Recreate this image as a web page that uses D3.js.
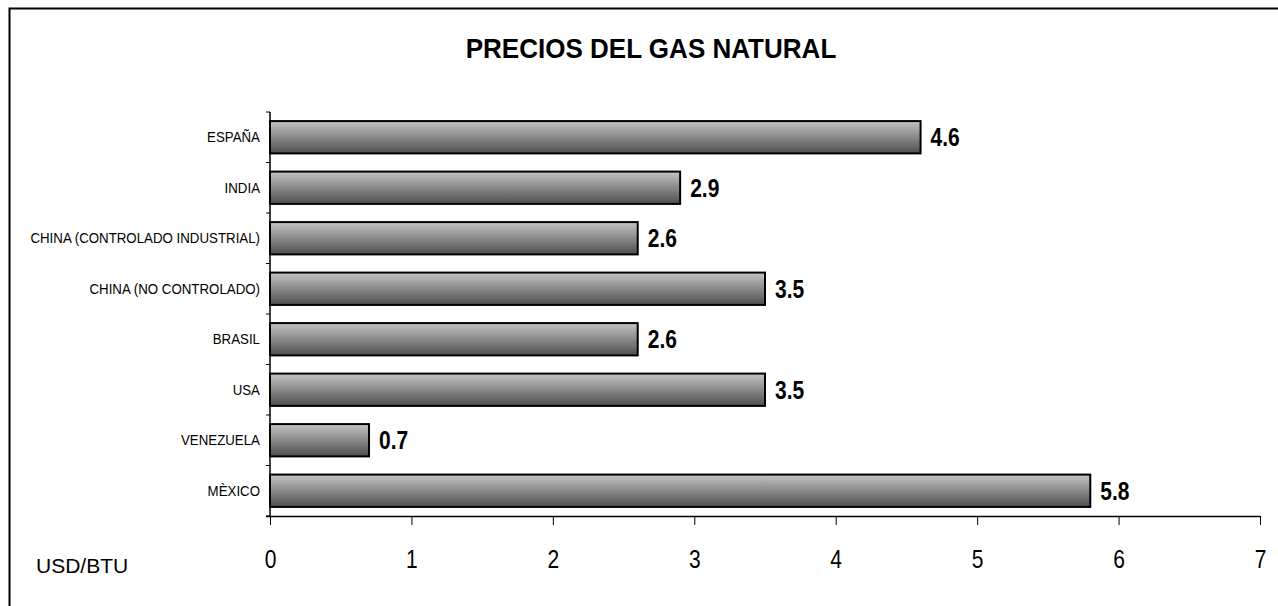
<!DOCTYPE html>
<html>
<head>
<meta charset="utf-8">
<script src="https://d3js.org/d3.v7.min.js"></script>
<style>
  body { margin: 0; background: #fff; }
  svg { display: block; }
</style>
</head>
<body>
<svg></svg>
<script>
    const categories = ["ESPAÑA", "INDIA", "CHINA (CONTROLADO INDUSTRIAL)", "CHINA (NO CONTROLADO)",
        "BRASIL", "USA", "VENEZUELA", "MÈXICO"];
    const values = [4.6, 2.9, 2.6, 3.5, 2.6, 3.5, 0.7, 5.8];
    const xTicks = [0, 1, 2, 3, 4, 5, 6, 7];

    const W = 1278, H = 606;
    const font = "'Liberation Sans', Arial, sans-serif";
    const plot = {left: 270, right: 1260, top: 112, bottom: 516};

    const svg = d3.select("svg")
        .attr("width", W)
        .attr("height", H);

    // outer frame (cut off at right and bottom)
    svg.append("rect")
        .attr("x", 9.5).attr("y", 8.5)
        .attr("width", W).attr("height", H)
        .attr("fill", "#fff")
        .attr("stroke", "#000")
        .attr("stroke-width", 2);

    const grad = svg.append("defs").append("linearGradient")
        .attr("id", "barGrad")
        .attr("x1", 0).attr("y1", 0).attr("x2", 0).attr("y2", 1);
    grad.append("stop").attr("offset", "0%").attr("stop-color", "#c4c4c4");
    grad.append("stop").attr("offset", "100%").attr("stop-color", "#4e4e4e");

    const x = d3.scaleLinear()
        .domain([0, 7])
        .range([plot.left, plot.right]);

    const y = d3.scaleBand()
        .domain(categories)
        .range([plot.top, plot.bottom])
        .paddingInner(0.36)
        .paddingOuter(0.18);

    // title (slightly condensed like Arial Narrow)
    svg.append("text")
        .attr("transform", "translate(651, 58) scale(0.93, 1)")
        .attr("text-anchor", "middle")
        .attr("font-family", font)
        .attr("font-weight", "bold")
        .attr("font-size", 28)
        .text("PRECIOS DEL GAS NATURAL");

    // bars
    svg.selectAll("rect.bar")
        .data(values)
        .join("rect")
        .attr("class", "bar")
        .attr("x", x(0))
        .attr("y", (d, i) => y(categories[i]))
        .attr("width", d => x(d) - x(0))
        .attr("height", y.bandwidth())
        .attr("fill", "url(#barGrad)")
        .attr("stroke", "#000")
        .attr("stroke-width", 2);

    // value labels
    svg.selectAll("text.val")
        .data(values)
        .join("text")
        .attr("class", "val")
        .attr("transform", (d, i) => `translate(${x(d) + 10}, ${y(categories[i]) + y.bandwidth() / 2}) scale(0.84, 1)`)
        .attr("dy", "0.36em")
        .attr("font-family", font)
        .attr("font-weight", "bold")
        .attr("font-size", 25)
        .text(d => d.toFixed(1));

    // x axis
    const xAxis = svg.append("g")
        .attr("transform", `translate(0, ${plot.bottom})`)
        .call(d3.axisBottom(x).tickValues(xTicks).tickFormat(d3.format("d"))
            .tickSize(9).tickPadding(25).tickSizeOuter(0));
    xAxis.select(".domain").attr("d", `M${plot.left - 4},0.5H${plot.right}`).attr("stroke-width", 1.5);
    xAxis.selectAll("text")
        .attr("transform", "scale(0.84, 1)")
        .attr("font-family", font)
        .attr("font-size", 25)
        .attr("fill", "#000");

    // y axis: ticks at band boundaries
    const yAxis = svg.append("g")
        .attr("transform", `translate(${plot.left}, 0)`);
    yAxis.append("line")
        .attr("y1", plot.top).attr("y2", plot.bottom)
        .attr("stroke", "#000").attr("stroke-width", 1.5);
    const bounds = d3.range(categories.length + 1).map(i => plot.top + i * (plot.bottom - plot.top) / categories.length);
    yAxis.selectAll("line.tick")
        .data(bounds)
        .join("line")
        .attr("class", "tick")
        .attr("x1", -4).attr("x2", 0)
        .attr("y1", d => d).attr("y2", d => d)
        .attr("stroke", "#000");
    yAxis.selectAll("text")
        .data(categories)
        .join("text")
        .attr("transform", d => `translate(-10, ${y(d) + y.bandwidth() / 2}) scale(0.95, 1)`)
        .attr("dy", "0.36em")
        .attr("text-anchor", "end")
        .attr("font-family", font)
        .attr("font-size", 14)
        .text(d => d);

    // unit label
    svg.append("text")
        .attr("x", 36).attr("y", 573)
        .attr("font-family", font)
        .attr("font-size", 21)
        .text("USD/BTU");
</script>
</body>
</html>
